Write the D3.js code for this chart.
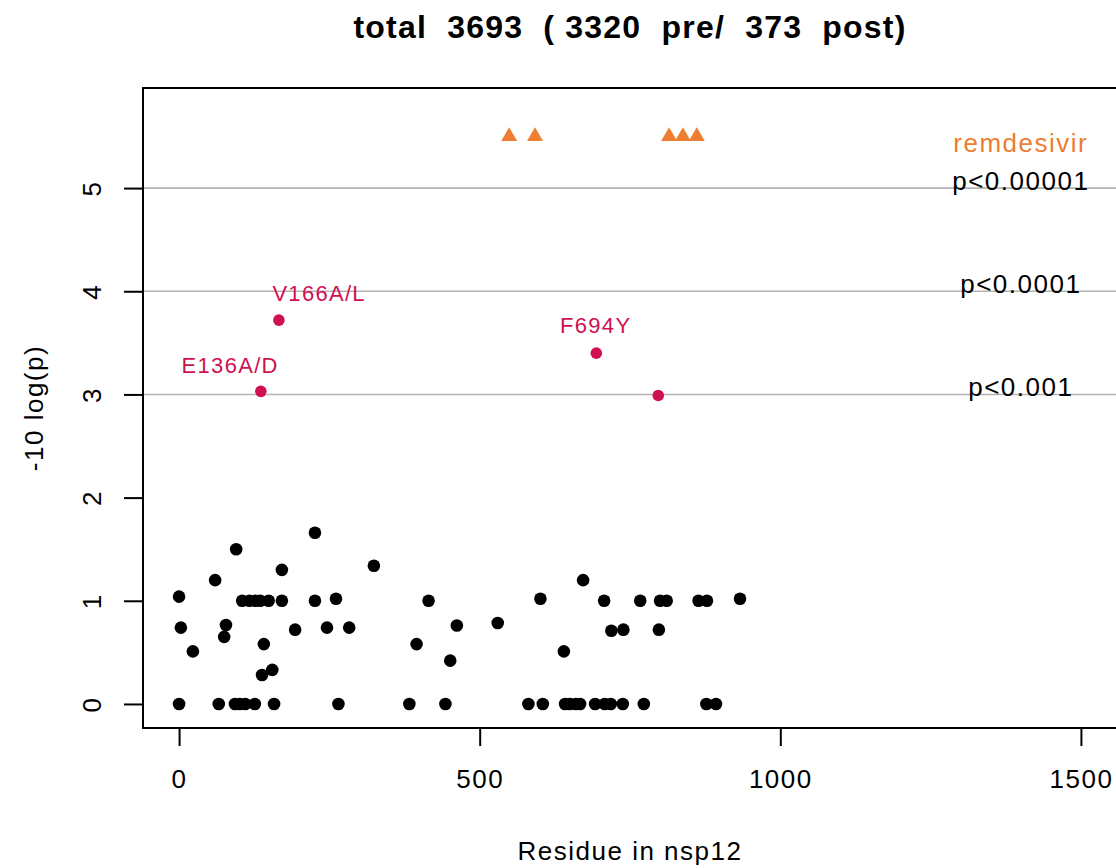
<!DOCTYPE html>
<html>
<head>
<meta charset="utf-8">
<script src="https://cdn.jsdelivr.net/npm/d3@7"></script>
<style>
  html, body { margin: 0; padding: 0; background: #fff; }
  svg { display: block; font-family: "Liberation Sans", Arial, sans-serif; }
</style>
</head>
<body>
<svg id="chart" width="1116" height="868"></svg>
<script>
// Residue positions and -10 log(p) scores of the non-significant sites
const residues = [
  0, 95, 226, 60, 171, 3, 23, 78, 75,
  105, 117, 127, 135, 149, 171, 226, 261,
  141, 193, 246, 283, 138, 155,
  0, 66, 93, 101, 110, 126, 158, 265,
  324, 415, 383, 443, 395, 451, 462, 530,
  601, 707, 767, 800, 811, 864, 878, 933,
  719, 739, 798, 672, 640,
  581, 605, 642, 650, 660, 667, 692, 708, 718, 738, 773, 877, 893
];
const scores = [
  1.04, 1.50, 1.66, 1.20, 1.30, 0.74, 0.51, 0.765, 0.65,
  1.0, 1.0, 1.0, 1.0, 1.0, 1.0, 1.0, 1.02,
  0.58, 0.72, 0.74, 0.74, 0.28, 0.33,
  0, 0, 0, 0, 0, 0, 0, 0,
  1.34, 1.0, 0, 0, 0.58, 0.42, 0.76, 0.785,
  1.02, 1.0, 1.0, 1.0, 1.0, 1.0, 1.0, 1.02,
  0.71, 0.72, 0.72, 1.20, 0.51,
  0, 0, 0, 0, 0, 0, 0, 0, 0, 0, 0, 0, 0
];

// Significant sites (p < 0.001)
const sigResidues = [136, 166, 694, 797];
const sigScores = [3.03, 3.72, 3.40, 2.99];
const sigLabels = ["E136A/D", "V166A/L", "F694Y"];
const sigLabelX = [85, 233, 693];
const sigLabelY = [3.28, 3.98, 3.67];

// Known remdesivir-associated residues, drawn along the top
const remdesivirResidues = [549, 592, 815, 838, 861];
const remdesivirLevel = 5.5;

// Significance thresholds
const thresholdValues = [3, 4, 5];
const thresholdLabels = ["p<0.001", "p<0.0001", "p<0.00001"];
const thresholdLabelX = 1400;

const xTicks = [0, 500, 1000, 1500];
const yTicks = [0, 1, 2, 3, 4, 5];

const title = "total  3693  ( 3320  pre/  373  post)";
const xTitle = "Residue in nsp12";
const yTitle = "-10 log(p)";

const W = 1116, H = 868;
const box = { left: 143, top: 88, right: 1117, bottom: 728 };

const x = d3.scaleLinear().domain([-60, 1560]).range([box.left, box.right]);
const y = d3.scaleLinear().domain([-0.233, 5.97]).range([box.bottom, box.top]);

const svg = d3.select("#chart");
svg.append("rect").attr("width", W).attr("height", H).attr("fill", "#fff");

const baseFont = 26;
const spacing = "1.5px";

// Threshold lines
svg.append("g").selectAll("line").data(thresholdValues).join("line")
  .attr("x1", box.left).attr("x2", W)
  .attr("y1", d => y(d)).attr("y2", d => y(d))
  .attr("stroke", "#b4b4b4").attr("stroke-width", 1.6);

// Axes
const yAxis = svg.append("g")
  .attr("transform", `translate(${box.left},0)`)
  .call(d3.axisLeft(y).tickValues(yTicks).tickSize(19).tickFormat(d3.format("d")));
yAxis.select(".domain").remove();
yAxis.selectAll(".tick line").attr("stroke", "#000").attr("stroke-width", 2);
yAxis.selectAll(".tick text")
  .attr("x", 0).attr("dy", 0)
  .attr("text-anchor", "middle")
  .attr("transform", "translate(-42,0) rotate(-90)")
  .attr("fill", "#000")
  .style("font-size", baseFont + "px")
  .style("letter-spacing", spacing)
  .style("font-family", "Liberation Sans, Arial, sans-serif");

const xAxis = svg.append("g")
  .attr("transform", `translate(0,${box.bottom})`)
  .call(d3.axisBottom(x).tickValues(xTicks).tickSize(18).tickFormat(d3.format("d")));
xAxis.select(".domain").remove();
xAxis.selectAll(".tick line").attr("stroke", "#000").attr("stroke-width", 2);
xAxis.selectAll(".tick text")
  .attr("y", 60).attr("dy", 0)
  .attr("fill", "#000")
  .style("font-size", baseFont + "px")
  .style("letter-spacing", spacing)
  .style("font-family", "Liberation Sans, Arial, sans-serif");

// Plot frame
svg.append("rect")
  .attr("x", box.left).attr("y", box.top)
  .attr("width", box.right - box.left).attr("height", box.bottom - box.top)
  .attr("fill", "none").attr("stroke", "#000").attr("stroke-width", 2);

// Non-significant sites
svg.append("g").selectAll("circle").data(residues).join("circle")
  .attr("cx", d => x(d))
  .attr("cy", (d, i) => y(scores[i]))
  .attr("r", 6.3)
  .attr("fill", "#000");

// Significant sites
const sigColor = "#cf1150";
svg.append("g").selectAll("circle").data(sigResidues).join("circle")
  .attr("cx", d => x(d))
  .attr("cy", (d, i) => y(sigScores[i]))
  .attr("r", 5.8)
  .attr("fill", sigColor);

svg.append("g").selectAll("text").data(sigLabels).join("text")
  .attr("x", (d, i) => x(sigLabelX[i]))
  .attr("y", (d, i) => y(sigLabelY[i]))
  .attr("dy", "0.36em")
  .attr("text-anchor", "middle")
  .attr("fill", sigColor)
  .style("font-size", "22px")
  .style("letter-spacing", "1.3px")
  .text(d => d);

// Remdesivir residues
const orange = "#ed7d31";
const tri = d3.symbol().type(d3.symbolTriangle).size(110);
svg.append("g").selectAll("path").data(remdesivirResidues).join("path")
  .attr("transform", d => `translate(${x(d)},${y(remdesivirLevel)})`)
  .attr("d", tri)
  .attr("fill", orange);

svg.append("text")
  .attr("x", x(thresholdLabelX)).attr("y", y(remdesivirLevel) + 16)
  .attr("text-anchor", "middle")
  .attr("fill", orange)
  .style("font-size", baseFont + "px")
  .style("letter-spacing", spacing)
  .text("remdesivir");

svg.append("g").selectAll("text").data(thresholdLabels).join("text")
  .attr("x", x(thresholdLabelX))
  .attr("y", (d, i) => y(thresholdValues[i]) + 2)
  .attr("text-anchor", "middle")
  .attr("fill", "#000")
  .style("font-size", baseFont + "px")
  .style("letter-spacing", spacing)
  .text(d => d);

// Titles
svg.append("text")
  .attr("x", (box.left + box.right) / 2).attr("y", 38)
  .attr("text-anchor", "middle")
  .attr("fill", "#000")
  .style("font-size", "32px").style("font-weight", "bold")
  .style("letter-spacing", "1.2px")
  .style("white-space", "pre")
  .text(title);

svg.append("text")
  .attr("x", (box.left + box.right) / 2).attr("y", 860)
  .attr("text-anchor", "middle")
  .attr("fill", "#000")
  .style("font-size", baseFont + "px")
  .style("letter-spacing", spacing)
  .text(xTitle);

svg.append("text")
  .attr("transform", `translate(43,${(box.top + box.bottom) / 2}) rotate(-90)`)
  .attr("text-anchor", "middle")
  .attr("fill", "#000")
  .style("font-size", baseFont + "px")
  .style("letter-spacing", spacing)
  .text(yTitle);
</script>
</body>
</html>
